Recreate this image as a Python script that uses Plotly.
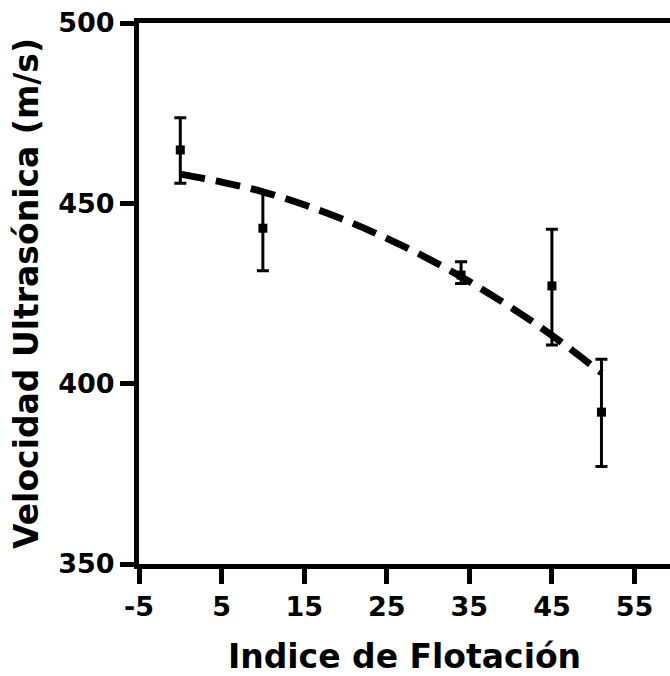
import plotly.graph_objects as go

# Measured points
flot_x = [0, 10, 34, 45, 51]
vel_y = [464.8, 443.1, 430.1, 427.1, 392.1]
err_up = [8.9, 10.1, 3.7, 15.7, 14.7]
err_down = [9.2, 11.8, 2.3, 16.4, 15.1]

# Fitted curve
fit_x = [0, 5, 10, 15, 20, 25, 30, 35, 40, 45, 51]
fit_y = [458.1, 455.9, 453.2, 449.6, 445.3, 440.3, 434.7, 428.3, 421.2, 413.4, 403.0]

x_ticks = [-5, 5, 15, 25, 35, 45, 55]
y_ticks = [350, 400, 450, 500]

FONT = "DejaVu Sans, Liberation Sans, Arial, sans-serif"

fig = go.Figure()
fig.add_trace(go.Scatter(
    x=fit_x, y=fit_y, mode="lines",
    line=dict(color="black", width=7, dash="25px,11px", shape="spline"),
    hoverinfo="skip", showlegend=False,
))
fig.add_trace(go.Scatter(
    x=flot_x, y=vel_y, mode="markers",
    marker=dict(symbol="square", size=9, color="black"),
    error_y=dict(type="data", symmetric=False, array=err_up, arrayminus=err_down,
                 color="black", thickness=3, width=6),
    showlegend=False,
))

fig.update_layout(
    width=670, height=676,
    margin=dict(l=139, r=0, t=23, b=112),
    paper_bgcolor="white", plot_bgcolor="white",
    font=dict(family=FONT, color="black"),
)
fig.update_xaxes(
    range=[-5, 59.3], tickvals=x_ticks, ticktext=[str(v) for v in x_ticks],
    showgrid=False, zeroline=False,
    showline=True, linecolor="black", linewidth=5, mirror=True,
    ticks="outside", ticklen=15, tickwidth=5, tickcolor="black",
    tickfont=dict(family=FONT, size=27, weight="bold"),
    title=dict(text="Indice de Flotación", standoff=28,
               font=dict(family=FONT, size=33, weight="bold")),
)
fig.update_yaxes(
    range=[350, 500], tickvals=y_ticks, ticktext=[str(v) for v in y_ticks],
    showgrid=False, zeroline=False,
    showline=True, linecolor="black", linewidth=5,
    ticks="outside", ticklen=14, tickwidth=5, tickcolor="black",
    tickfont=dict(family=FONT, size=27, weight="bold"),
    title=dict(text="Velocidad Ultrasónica (m/s)", standoff=11,
               font=dict(family=FONT, size=33, weight="bold")),
)

fig.write_html("out.html")
